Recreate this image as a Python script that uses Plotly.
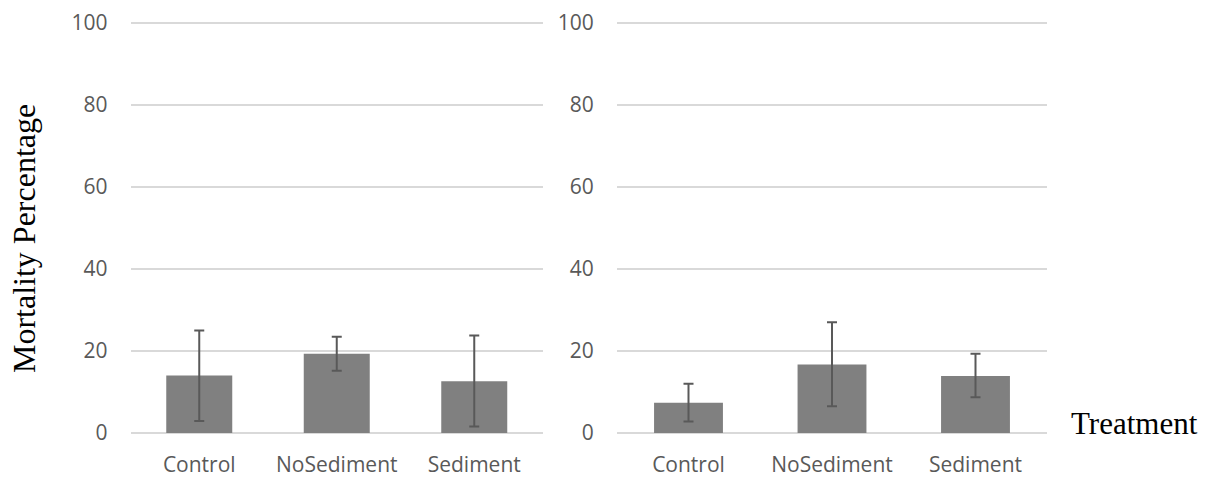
import plotly.graph_objects as go

# Mortality (%) by treatment for two trials, with error bars
categories = ["Control", "NoSediment", "Sediment"]

left_values = [14.0, 19.3, 12.6]
left_err_plus = [11.0, 4.2, 11.2]
left_err_minus = [11.1, 4.1, 11.0]

right_values = [7.4, 16.7, 13.9]
right_err_plus = [4.6, 10.3, 5.4]
right_err_minus = [4.6, 10.2, 5.2]

y_ticks = [0, 20, 40, 60, 80, 100]

W, H = 1211, 477
TOP, BOTTOM = 22, 43
BAR = "#808080"
ERR = "#595959"
GRID = "#d9d9d9"
TICK_FONT = dict(family="Open Sans", size=21, color="#595959")

fig = go.Figure()

for vals, ep, em, xa, ya in [
    (left_values, left_err_plus, left_err_minus, "x", "y"),
    (right_values, right_err_plus, right_err_minus, "x2", "y2"),
]:
    fig.add_trace(go.Bar(
        x=categories, y=vals, xaxis=xa, yaxis=ya,
        marker=dict(color=BAR, line=dict(width=0)),
        error_y=dict(type="data", symmetric=False, array=ep, arrayminus=em,
                     color=ERR, thickness=2, width=5),
        showlegend=False,
    ))


def px_x(p):
    return p / W


def px_y(p):
    # pixel row (from top of page) to paper fraction
    return (H - BOTTOM - p) / (H - TOP - BOTTOM)


xcommon = dict(showgrid=False, zeroline=False, showline=False, ticks="",
               tickfont=TICK_FONT, ticklabelstandoff=16, fixedrange=True)
ycommon = dict(range=[-0.25, 100.25], tickvals=y_ticks, showgrid=True,
               gridcolor=GRID, gridwidth=2, zeroline=False, showline=False,
               ticks="", tickfont=TICK_FONT, ticklabelstandoff=22,
               fixedrange=True)

fig.update_layout(
    width=W, height=H,
    margin=dict(l=0, r=0, t=TOP, b=BOTTOM),
    paper_bgcolor="white", plot_bgcolor="white",
    bargap=0.52,
    xaxis=dict(domain=[px_x(130.5), px_x(543)], anchor="y", **xcommon),
    yaxis=dict(anchor="x", **ycommon),
    xaxis2=dict(domain=[px_x(616.75), px_x(1047.25)], anchor="y2", **xcommon),
    yaxis2=dict(anchor="x2", **ycommon),
    annotations=[
        dict(text="Mortality Percentage", xref="paper", yref="paper",
             x=px_x(24), y=px_y(239), textangle=-90,
             showarrow=False, xanchor="center", yanchor="middle",
             font=dict(family="Liberation Serif", size=32, color="black")),
        dict(text="Treatment", xref="paper", yref="paper",
             x=px_x(1069), y=px_y(423),
             showarrow=False, xanchor="left", yanchor="middle",
             font=dict(family="Liberation Serif", size=31, color="black")),
    ],
)

fig.write_html("out.html")
